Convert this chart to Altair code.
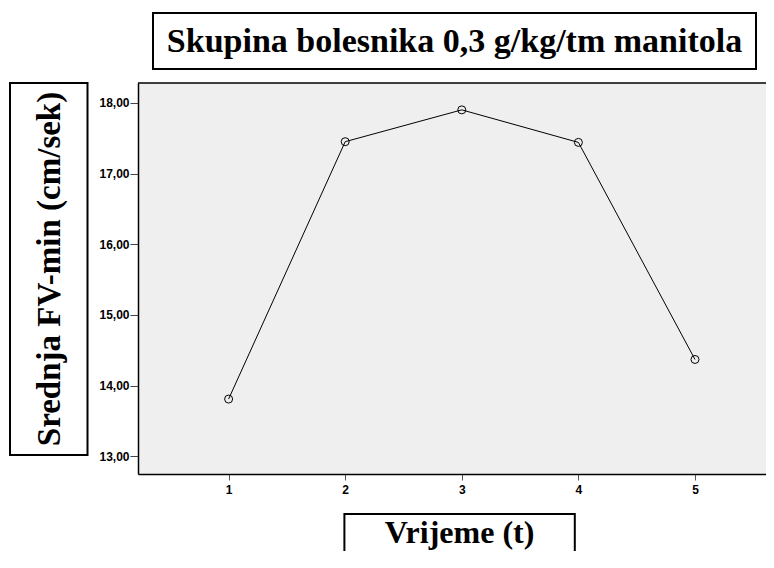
import altair as alt
import pandas as pd

# Data
times = [1, 2, 3, 4, 5]
means = [13.81, 17.45, 17.90, 17.44, 14.37]
y_ticks = [13, 14, 15, 16, 17, 18]
x_ticks = [1, 2, 3, 4, 5]

title_text = "Skupina bolesnika 0,3 g/kg/tm manitola"
y_title_text = "Srednja FV-min (cm/sek)"
x_title_text = "Vrijeme (t)"

df = pd.DataFrame({"t": times, "v": means})

W, H = 628, 391
SERIF = "Liberation Serif"
SANS = "Liberation Sans"

x_enc = alt.X("t:Q", scale=alt.Scale(domain=[0.223, 5.609], nice=False, zero=False),
              axis=alt.Axis(values=x_ticks, format="d", title=None, grid=False,
                            domainColor="black", domainWidth=1.5,
                            tickColor="#555555", tickSize=6, labelPadding=4,
                            labelFont=SANS, labelFontWeight="bold", labelFontSize=12,
                            labelColor="black"))
y_enc = alt.Y("v:Q", scale=alt.Scale(domain=[12.75, 18.28], nice=False, zero=False),
              axis=alt.Axis(values=y_ticks, title=None, grid=False,
                            labelExpr="replace(format(datum.value, '.2f'), '.', ',')",
                            domainColor="black", domainWidth=1.5,
                            tickColor="#444444", tickSize=8, labelPadding=1,
                            labelFont=SANS, labelFontWeight="bold", labelFontSize=12,
                            labelColor="black"))

base = alt.Chart(df)
line = base.mark_line(color="black", strokeWidth=1).encode(x=x_enc, y=y_enc)
pts = base.mark_point(shape="circle", filled=False, color="black", size=64,
                      strokeWidth=1, opacity=1).encode(x="t:Q", y="v:Q")

one = alt.Data(values=[{}])

top_rule = alt.Chart(one).mark_rule(color="black", strokeWidth=1.5).encode(
    x=alt.value(0), x2=alt.value(W), y=alt.value(0))


def box(x1, x2, y1, y2):
    return alt.Chart(one).mark_rect(fill="white", stroke="black", strokeWidth=2).encode(
        x=alt.value(x1), x2=alt.value(x2), y=alt.value(y1), y2=alt.value(y2))


title_box = box(15, 618, -70, -14)
title_txt = alt.Chart(one).mark_text(font=SERIF, fontWeight="bold", fontSize=34,
                                     align="center", baseline="middle", color="black").encode(
    x=alt.value(316.5), y=alt.value(-41), text=alt.value(title_text))

ybox = box(-128, -50.5, 0, 372)
ytxt = alt.Chart(one).mark_text(font=SERIF, fontWeight="bold", fontSize=33, angle=270,
                                align="center", baseline="middle", color="black").encode(
    x=alt.value(-88), y=alt.value(186), text=alt.value(y_title_text))

xbox = box(206.4, 436.8, 431, 520)
xtxt = alt.Chart(one).mark_text(font=SERIF, fontWeight="bold", fontSize=32,
                                align="center", baseline="alphabetic", color="black").encode(
    x=alt.value(321.6), y=alt.value(460), text=alt.value(x_title_text))

chart = alt.layer(line, pts, top_rule, title_box, title_txt, ybox, ytxt, xbox, xtxt).properties(
    width=W, height=H,
    autosize="none",
    padding={"left": 130, "top": 75, "right": 0, "bottom": 77},
    background="white",
).configure_view(fill="#efefef", stroke=None)

chart.save("out.html", embed_options={"renderer": "svg", "actions": False})
